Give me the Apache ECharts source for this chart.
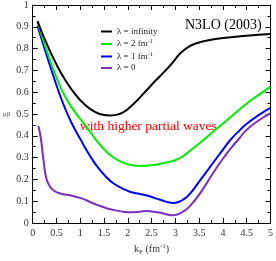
<!DOCTYPE html>
<html><head><meta charset="utf-8">
<script src="https://cdn.jsdelivr.net/npm/echarts@6/dist/echarts.min.js"></script>
<style>html,body{margin:0;padding:0;background:#fff}#c{width:276px;height:261px}</style>
</head><body><div id="c"></div>
<script>
var seriesNames = ['λ = infinity', 'λ = 2 fm⁻¹', 'λ = 1 fm⁻¹', 'λ = 0'];
var lamInf = [[0.1,0.926],[0.3,0.819],[0.5,0.727],[0.7,0.65],[0.9,0.589],[1.1,0.542],[1.3,0.511],[1.5,0.495],[1.61,0.493],[1.75,0.496],[1.9,0.508],[2.05,0.532],[2.22,0.568],[2.4,0.61],[2.57,0.65],[2.75,0.69],[2.91,0.728],[3.0,0.752],[3.11,0.78],[3.25,0.804],[3.4,0.821],[3.6,0.834],[4.0,0.849],[4.5,0.859],[5.0,0.867]];
var lam2 = [[0.1,0.925],[0.25,0.82],[0.4,0.725],[0.55,0.64],[0.7,0.572],[0.85,0.52],[1.0,0.477],[1.2,0.42],[1.37,0.37],[1.55,0.327],[1.71,0.298],[1.9,0.277],[2.06,0.267],[2.26,0.262],[2.5,0.265],[2.74,0.274],[2.9,0.282],[3.02,0.29],[3.15,0.305],[3.29,0.328],[3.5,0.365],[3.81,0.422],[4.1,0.475],[4.5,0.548],[4.75,0.588],[5.0,0.624]];
var lam1 = [[0.1,0.905],[0.25,0.8],[0.4,0.697],[0.55,0.6],[0.7,0.515],[0.85,0.445],[1.0,0.385],[1.2,0.31],[1.37,0.255],[1.55,0.21],[1.71,0.18],[1.9,0.157],[2.06,0.142],[2.25,0.133],[2.4,0.126],[2.6,0.112],[2.74,0.102],[2.85,0.095],[2.95,0.092],[3.05,0.095],[3.16,0.107],[3.29,0.13],[3.5,0.19],[3.81,0.281],[4.0,0.337],[4.16,0.382],[4.35,0.425],[4.5,0.455],[4.75,0.495],[5.0,0.528]];
var lam0 = [[0.12,0.445],[0.17,0.39],[0.22,0.3],[0.28,0.21],[0.35,0.172],[0.45,0.148],[0.6,0.134],[0.8,0.126],[1.03,0.113],[1.2,0.097],[1.37,0.082],[1.55,0.068],[1.71,0.059],[1.9,0.052],[2.06,0.049],[2.25,0.052],[2.4,0.055],[2.55,0.052],[2.74,0.044],[2.85,0.038],[2.95,0.035],[3.05,0.04],[3.16,0.052],[3.29,0.074],[3.5,0.13],[3.81,0.235],[4.0,0.295],[4.16,0.341],[4.35,0.39],[4.5,0.428],[4.75,0.47],[5.0,0.504]];
var colors = ['#000000', '#00ee00', '#0000ff', '#7b2fbe'];

var serif = 'Liberation Serif';
var chart = echarts.init(document.getElementById('c'));
function xAx(pos, show) {
  return {
    type: 'value', min: 0, max: 5, interval: 0.5, position: pos,
    axisLine: {show: true, onZero: false, lineStyle: {color: '#000', width: 1}},
    axisTick: {show: true, inside: true, length: 5, lineStyle: {color: '#000'}},
    minorTick: {show: true, splitNumber: 2, length: 3, lineStyle: {color: '#000'}},
    splitLine: {show: false},
    axisLabel: {show: show, color: '#333', fontFamily: serif, fontSize: 10, margin: 5,
      formatter: function (v) { return String(v); }},
    name: show ? '{k|k}{s|F}{k| (fm}{p|-1}{k|)}' : '',
    nameLocation: 'middle', nameGap: 20,
    nameTextStyle: {rich: {k: {fontFamily: serif, fontSize: 10, color: '#333'},
      s: {fontFamily: serif, fontSize: 7, color: '#333', verticalAlign: 'bottom', padding: [6,0,0,0]},
      p: {fontFamily: serif, fontSize: 7, color: '#333', verticalAlign: 'top', padding: [0,0,6,0]}}}
  };
}
function yAx(pos, show) {
  return {
    type: 'value', min: 0, max: 1, interval: 0.1, position: pos,
    axisLine: {show: true, onZero: false, lineStyle: {color: '#000', width: 1}},
    axisTick: {show: true, inside: true, length: 5, lineStyle: {color: '#000'}},
    minorTick: {show: true, splitNumber: 2, length: 3, lineStyle: {color: '#000'}},
    splitLine: {show: false},
    axisLabel: {show: show, color: '#333', fontFamily: serif, fontSize: 10, margin: 4,
      formatter: function (v) { return String(Math.round(v * 10) / 10); }},
    name: show ? 'μβ' : '', nameLocation: 'middle', nameRotate: 0, nameGap: 14,
    nameTextStyle: {fontFamily: serif, fontSize: 7, color: '#555'}
  };
}
var datas = [lamInf, lam2, lam1, lam0];
var series = datas.map(function (d, i) {
  return {name: seriesNames[i], type: 'line', data: d, smooth: 0.5, showSymbol: false,
    lineStyle: {color: colors[i], width: 2}, itemStyle: {color: colors[i]}, z: 5 - i};
});
chart.setOption({
  animation: false,
  grid: {left: 28, right: 5, top: 5, bottom: 31},
  xAxis: [xAx('bottom', true), xAx('top', false)],
  yAxis: [yAx('left', true), yAx('right', false)],
  legend: {
    orient: 'vertical', left: 96, top: 22, itemWidth: 11, itemHeight: 2, itemGap: 2.5,
    icon: 'rect', data: seriesNames,
    formatter: function (n) {
      var m = n.match(/^(.*) fm⁻¹$/);
      if (m) return '{t|' + m[1] + ' fm}{p|-1}';
      return '{t|' + n + '}';
    },
    textStyle: {rich: {t: {fontFamily: serif, fontSize: 9, color: '#222', height: 10},
      p: {fontFamily: serif, fontSize: 6, color: '#222', verticalAlign: 'top', padding: [0,0,5,0]}}}
  },
  graphic: [
    {type: 'text', left: 185, top: 18, style: {text: 'N3LO (2003)', font: '14px "Liberation Serif"', fill: '#000'}},
    {type: 'text', left: 80, top: 119, style: {text: 'with higher partial waves', font: '13.5px "Liberation Serif"', fill: '#ff0000'}}
  ],
  series: series
});
</script></body></html>
